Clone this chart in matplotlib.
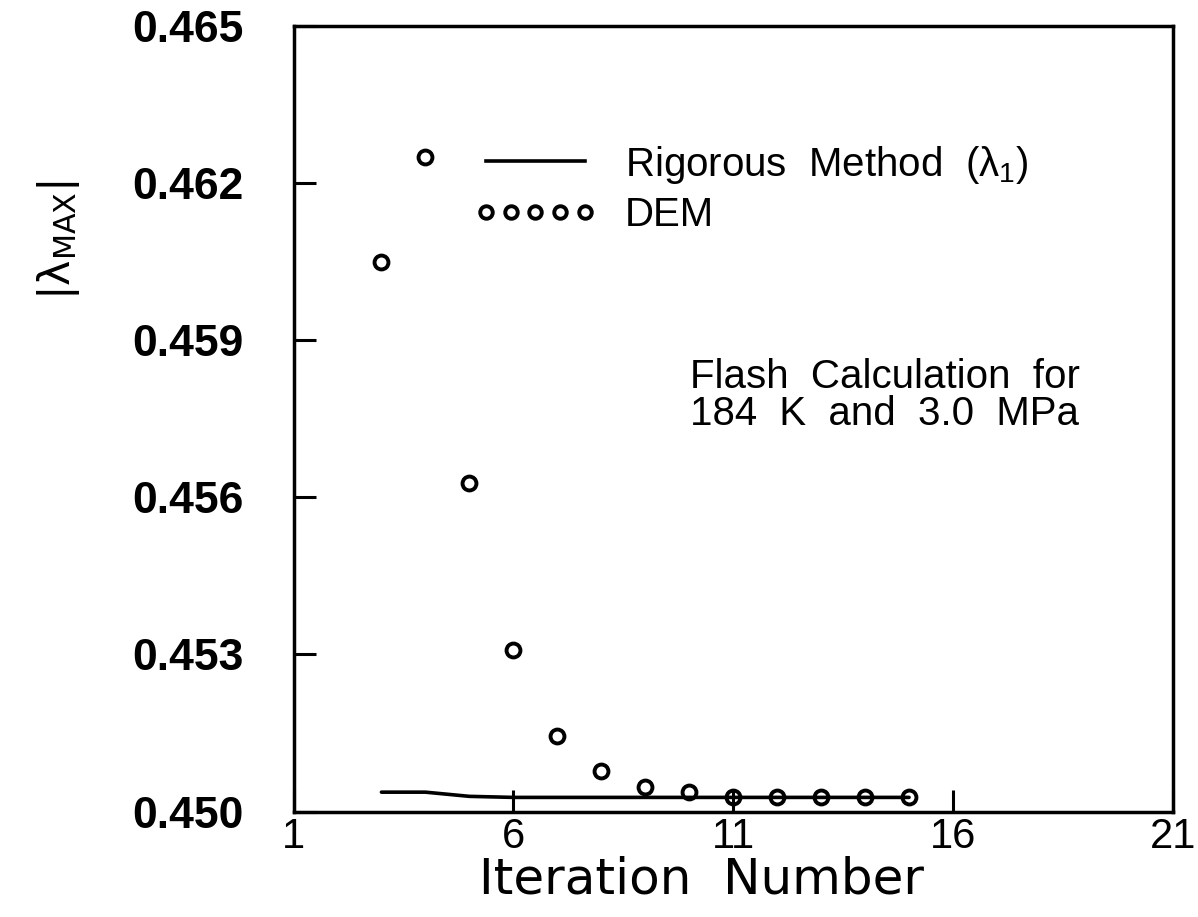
import matplotlib
matplotlib.use('Agg')
import matplotlib.pyplot as plt
from matplotlib.lines import Line2D

# DEM estimates of |lambda_max| per iteration
dem_iter = [3, 4, 5, 6, 7, 8, 9, 10, 11, 12, 13, 14, 15]
dem_vals = [0.46048, 0.46249, 0.45627, 0.45308, 0.45145, 0.45078, 0.45046,
            0.45038, 0.45027, 0.45027, 0.45027, 0.45027, 0.45027]

# rigorous method (lambda_1)
rig_iter = [3, 4, 5, 6, 7, 8, 9, 10, 11, 12, 13, 14, 15]
rig_vals = [0.45037, 0.45037, 0.45029, 0.45027, 0.45027, 0.45027, 0.45027,
            0.45027, 0.45027, 0.45027, 0.45027, 0.45027, 0.45027]

x_ticks = [1, 6, 11, 16, 21]
y_ticks = [0.450, 0.453, 0.456, 0.459, 0.462, 0.465]

plt.rcParams['mathtext.default'] = 'regular'

fig = plt.figure(figsize=(11.98, 9.17), dpi=100)
ax = fig.add_axes([0.245, 0.115, 0.734, 0.857])

ax.plot(rig_iter, rig_vals, color='black', lw=2.6, solid_capstyle='round')
ax.plot(dem_iter, dem_vals, linestyle='none', marker='o', ms=10,
        mfc='none', mec='black', mew=2.8)

ax.set_xlim(1, 21)
ax.set_ylim(0.450, 0.465)
ax.set_xticks(x_ticks)
ax.set_yticks(y_ticks)
ax.set_yticklabels([f'{v:.3f}' for v in y_ticks], fontsize=32,
                   fontweight='bold', family='Liberation Sans')
ax.set_xticklabels([str(v) for v in x_ticks], fontsize=30,
                   family='Liberation Sans')
ax.tick_params(axis='both', direction='in', length=16, width=2.2)
ax.tick_params(axis='y', pad=36)
ax.tick_params(axis='x', pad=4)
for s in ax.spines.values():
    s.set_linewidth(2.5)

ax.set_xlabel('Iteration  Number', fontsize=36, family='DejaVu Sans')
ax.xaxis.set_label_coords(0.464, -0.056, transform=ax.transAxes)
ax.xaxis.label.set_va('top')
ax.set_ylabel(r'$|\lambda_{MAX}|$', fontsize=31)
ax.yaxis.set_label_coords(-0.24, 0.727)

handles = [
    Line2D([], [], color='black', lw=2.6),
    Line2D([], [], linestyle='none', marker='o', ms=9, mfc='none',
           mec='black', mew=2.8),
]
leg = ax.legend(handles, ['Rigorous  Method  (λ$_1$)', 'DEM'],
                loc='upper left', bbox_to_anchor=(0.205, 0.85),
                frameon=False, numpoints=5, handlelength=3.05,
                handletextpad=0.7, labelspacing=0.25, borderpad=0,
                borderaxespad=0,
                prop={'family': 'Liberation Sans', 'size': 29})

ax.text(0.4505, 0.577, 'Flash  Calculation  for\n184  K  and  3.0  MPa',
        transform=ax.transAxes, fontsize=29, family='Liberation Sans',
        ha='left', va='top', linespacing=0.95)

fig.savefig('out.png', dpi=100)
